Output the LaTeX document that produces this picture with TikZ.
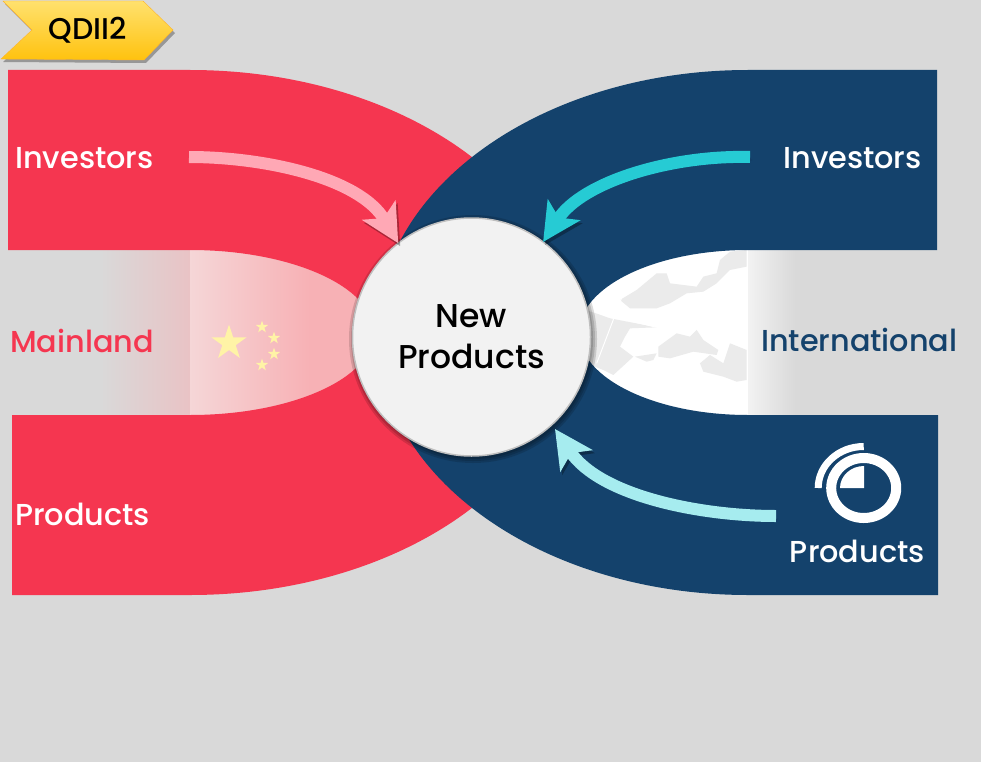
\documentclass[tikz,border=0pt]{standalone}
\usepackage{fontspec}
\setmainfont{Poppins Medium}
\usetikzlibrary{arrows.meta}
\usetikzlibrary{shapes.geometric}

\definecolor{bgrey}{HTML}{D9D9D9}
\definecolor{cnred}{HTML}{F53650}
\definecolor{intlnavy}{HTML}{14426C}
\definecolor{flagstar}{HTML}{FFF3A6}
\definecolor{landgrey}{HTML}{EBEBEB}
\definecolor{paleend}{HTML}{E9C3C5}
\definecolor{palestart}{HTML}{F5D6D7}
\definecolor{palepink}{HTML}{F7B1B5}
\definecolor{arrowpink}{HTML}{FFA8B5}
\definecolor{arrowcyan}{HTML}{26CBD4}
\definecolor{arrowpale}{HTML}{A6ECEF}
\definecolor{badgetop}{HTML}{FFE16E}
\definecolor{badgebottom}{HTML}{FFC20E}
\definecolor{badgeedge}{HTML}{FFB428}

\tikzset{
  bandlabel/.style={text=white, font=\fontsize{30.3}{30}\selectfont, inner sep=0pt},
  sidelabel/.style={font=\fontsize{30.3}{30}\selectfont, inner sep=0pt},
  bigstar/.style={star, star points=5, star point ratio=2.618, fill=flagstar, inner sep=0pt, minimum size=37pt},
  smallstar/.style={star, star points=5, star point ratio=2.618, fill=flagstar, inner sep=0pt, minimum size=13pt},
  flow/.style={line width=12pt, -{Stealth[length=38pt, width=38pt, inset=9pt]},
    preaction={draw=black, opacity=0.3, transform canvas={shift={(2pt,-3pt)}}}},
}

\begin{document}
\begin{tikzpicture}[x=1pt, y=-1pt]
    \useasboundingbox (0,0) rectangle (981,762);
    \fill[bgrey] (0,0) rectangle (981,762);

    % mainland side
    \shade[left color=bgrey, right color=paleend] (100,250) rectangle (190,415);
    \shade[left color=palestart, right color=palepink] (190,250) rectangle (310,415);
    \fill[palepink] (310,250) rectangle (380,415);
    \fill[cnred] (8,70) -- (190,70) arc[start angle=90, end angle=-90, x radius=379pt, y radius=262.5pt]
      -- (12,595) -- (12,415) -- (190,415) arc[start angle=-90, end angle=90, x radius=184pt, y radius=82.5pt]
      -- (8,250) -- cycle;
    \node[bigstar] (star0) at (229,343) {};
    \node[smallstar] (star1) at (262,327) {};
    \node[smallstar] (star2) at (274,338) {};
    \node[smallstar] (star3) at (274,354) {};
    \node[smallstar] (star4) at (262,365) {};

    % international side
    \fill[white] (575,250) rectangle (748,415);
    \shade[left color=black!5, right color=bgrey] (748,250) rectangle (795,415);
    \begin{scope}[shift={(570,240)}, x=0.3333pt, y=-0.3333pt]
      \fill[landgrey] (50,210) -- (120,235) -- (260,262) -- (180,265) -- (165,290) -- (150,320)
        -- (190,350) -- (130,405) -- (100,390) -- (50,370) -- cycle;
      \fill[landgrey] (150,180) -- (200,150) -- (260,100) -- (290,100) -- (300,130) -- (380,140)
        -- (400,110) -- (440,100) -- (450,60) -- (480,35) -- (530,30) -- (530,80) -- (480,90)
        -- (440,130) -- (400,155) -- (350,160) -- (300,190) -- (260,205) -- (180,205) -- cycle;
      \fill[landgrey] (265,320) -- (320,280) -- (360,290) -- (380,270) -- (400,300) -- (445,330)
        -- (440,345) -- (370,335) -- (300,355) -- (265,350) -- cycle;
      \fill[landgrey] (390,370) -- (420,345) -- (460,370) -- (480,310) -- (530,330) -- (530,420)
        -- (500,425) -- (460,410) -- (400,395) -- cycle;
      \fill[landgrey] (195,350) -- (260,340) -- (250,360) -- (230,365) -- cycle;
      \draw[white, line width=1pt] (50,210) -- (260,262);
      \draw[white, line width=1pt] (160,160) -- (80,370);
    \end{scope}
    \fill[intlnavy] (937,70) -- (748,70) arc[start angle=90, end angle=270, x radius=371pt, y radius=262.5pt]
      -- (938,595) -- (938,415) -- (748,415) arc[start angle=270, end angle=90, x radius=169pt, y radius=82.5pt]
      -- (937,250) -- cycle;

    % soft shadow of the circle
    \foreach \r in {124,122,120}
      \fill[black, opacity=0.14] (473,339) circle[radius=\r pt];
    \node[circle, fill=black!5, draw=black!25, line width=1.5pt, inner sep=0pt, outer sep=0pt,
      minimum size=238pt, align=center, font=\fontsize{33}{41}\selectfont] (newprod) at (471.5,337) {New\\Products};

    % labels
    \node[bandlabel, anchor=base west] (investleft) at (15,168) {Investors};
    \node[bandlabel, anchor=base east] (investright) at (922,168) {Investors};
    \node[sidelabel, text=cnred, anchor=base west] (mainland) at (10,352) {Mainland};
    \node[sidelabel, text=intlnavy, anchor=base west] (international) at (761,351) {International};
    \node[bandlabel, anchor=base west] (prodleft) at (15,525) {Products};
    \node[bandlabel, anchor=base east] (prodright) at (925,562) {Products};

    % arrows
    \coordinate (pinkfrom) at (189,157);
    \coordinate (cyanfrom) at (750,157);
    \coordinate (palefrom) at (776,516);
    \coordinate (paleto) at (555,429);
    \draw[flow, draw=arrowpink] (pinkfrom) .. controls (265,157) and (360,178) .. (newprod.128.7);
    \draw[flow, draw=arrowcyan] (cyanfrom) .. controls (670,155) and (582,182) .. (newprod.53);
    \draw[flow, draw=arrowpale] (palefrom) .. controls (700,516) and (600,496) .. (paleto);

    % product icon
    \draw[white, line width=10pt] (863.7,488) ellipse[x radius=32.5pt, y radius=30pt];
    \draw[white, line width=7pt] (818.2,488) arc[start angle=180, end angle=90, x radius=45.5pt, y radius=41.5pt];
    \fill[white] (864,488) -- (840,488) arc[start angle=180, end angle=90, x radius=24pt, y radius=22pt] -- cycle;

    % badge
    \fill[black, opacity=0.3] (5,4) -- (145,4) -- (175,33) -- (146,63) -- (3,62) -- (34,33) -- cycle;
    \shade[top color=badgetop, bottom color=badgebottom, draw=badgeedge]
      (3,1) -- (143,1) -- (173,30) -- (144,60) -- (1,59) -- (32,30) -- cycle;
    \node[font=\fontsize{30}{30}\selectfont, inner sep=0pt] (qdii) at (88,30) {QDII2};
\end{tikzpicture}
\end{document}
